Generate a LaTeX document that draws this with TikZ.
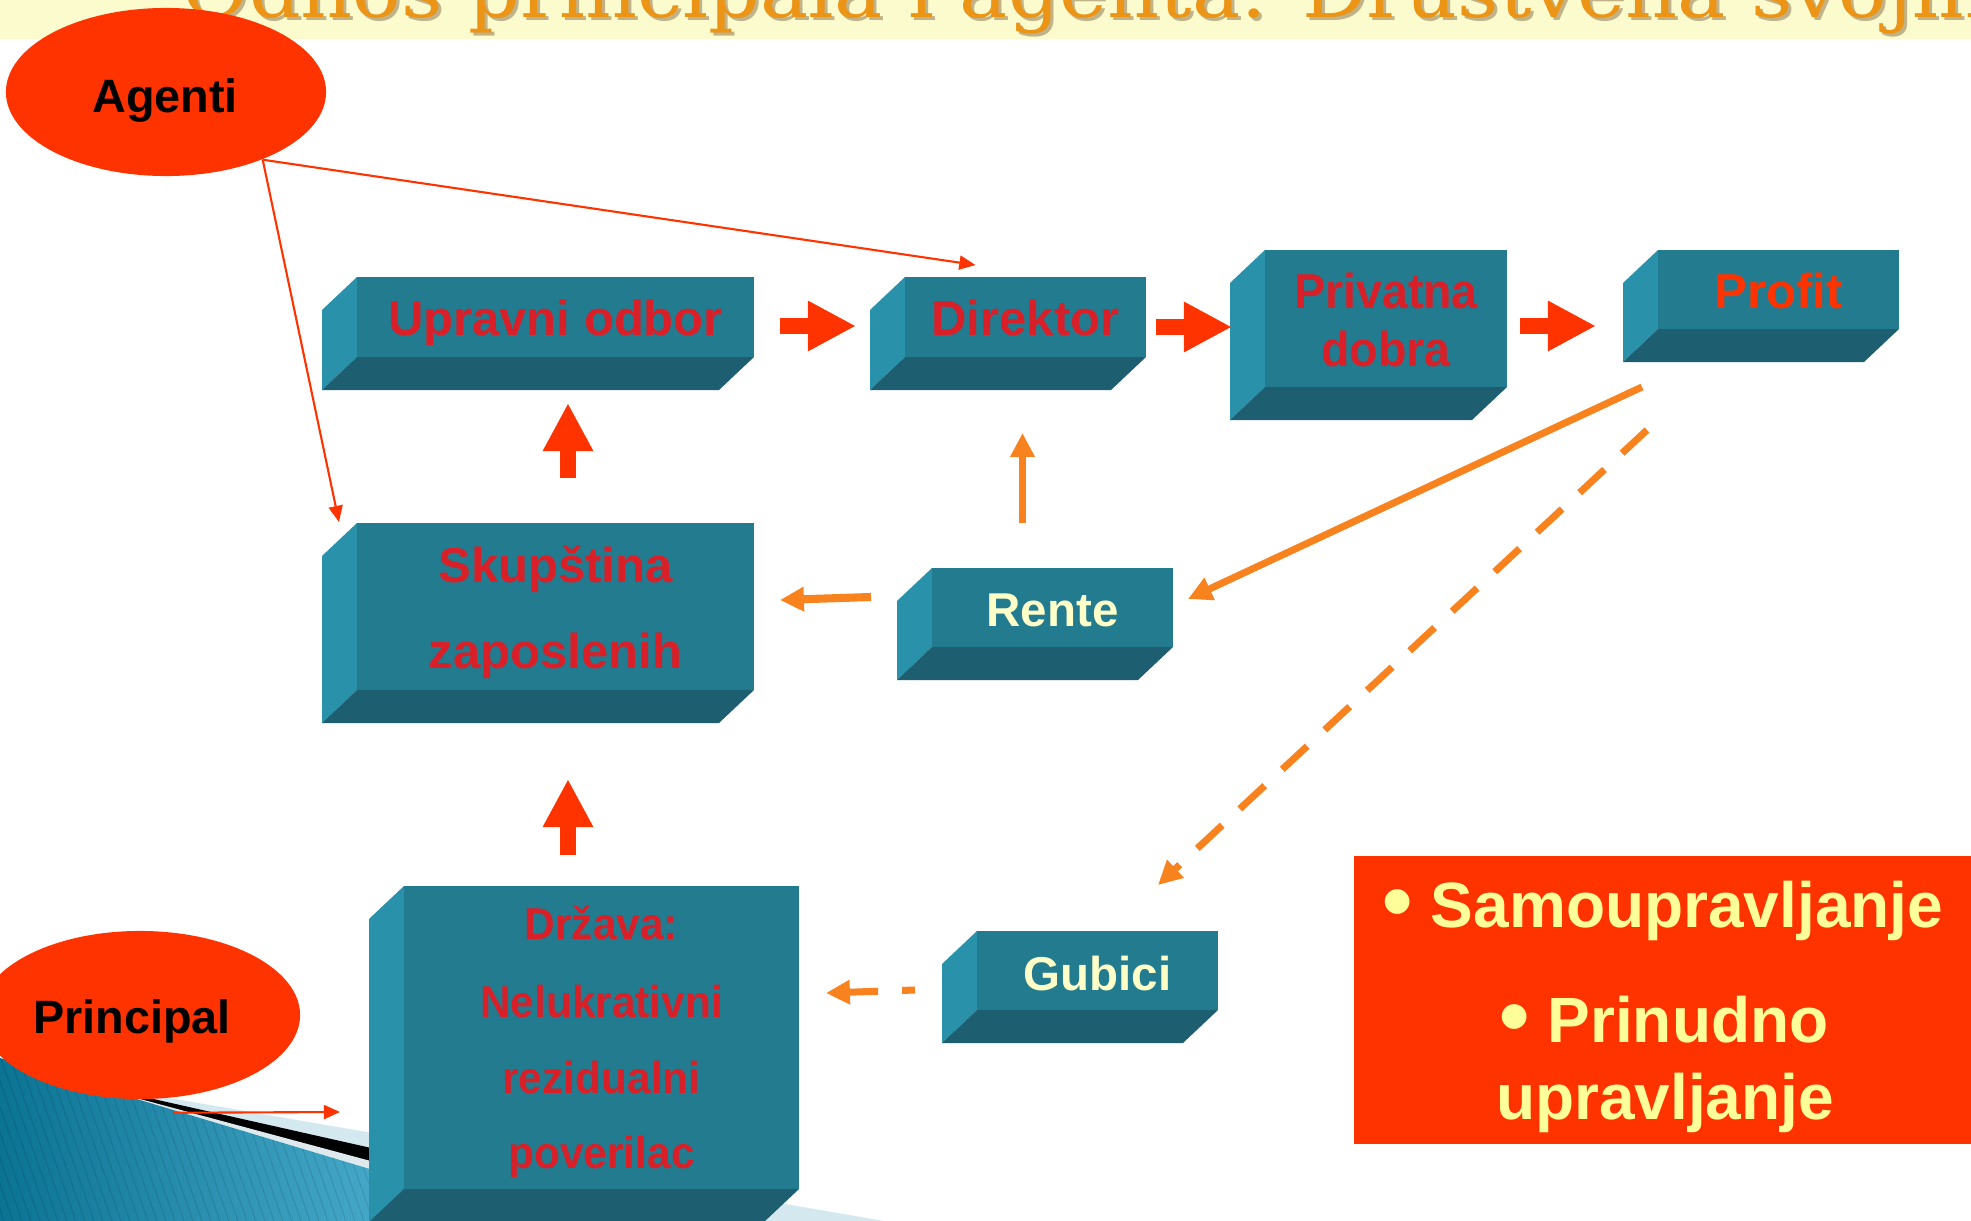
\documentclass[tikz,border=0pt]{standalone}
\usepackage{fontspec}
\setmainfont{Liberation Sans}
\newfontfamily\titlefont{DejaVu Serif}
\usetikzlibrary{arrows.meta,calc,shapes.geometric}
\definecolor{boxfront}{HTML}{227B8F}
\definecolor{boxside}{HTML}{2A91AA}
\definecolor{boxbottom}{HTML}{1D5E70}
\definecolor{txtred}{HTML}{D91F28}
\definecolor{hotred}{HTML}{FF3300}
\definecolor{cream}{HTML}{FFFFC8}
\definecolor{noteyellow}{HTML}{FFFF99}
\definecolor{orng}{HTML}{F8821E}
\definecolor{stripcol}{HTML}{FBFBCE}
\definecolor{titleor}{HTML}{EC9416}
\definecolor{lightband}{HTML}{D4E8EF}
\definecolor{bluedark}{HTML}{0B7394}
\definecolor{bluelight}{HTML}{62C2E2}
\definecolor{stripecol}{HTML}{DDE9EC}
\newcommand\tdbox[5]{%
  \fill[boxside] (#2,#3) -- (#2-35,#3+33) -- (#2-35,#5+33) -- (#2,#5) -- cycle;
  \fill[boxbottom] (#2,#5) -- (#4,#5) -- (#4-35,#5+33) -- (#2-35,#5+33) -- cycle;
  \node[frontface, minimum width={(#4-#2)*0.01cm}, minimum height={(#5-#3)*0.01cm}] (#1) at ({(#2+#4)/2},{(#3+#5)/2}) {};
}
\newcommand\narrowtxt[1]{\scalebox{0.95}[1]{#1}}
\begin{document}
\begin{tikzpicture}[x=0.01cm,y=-0.01cm,
  frontface/.style={rectangle, fill=boxfront, draw=none, inner sep=0pt, outer sep=0pt},
  boxtxt/.style={inner sep=0pt, anchor=base, text=txtred, font=\fontsize{13.94pt}{16pt}\selectfont\bfseries},
  drztxt/.style={inner sep=0pt, anchor=base, text=txtred, font=\fontsize{12.7pt}{15pt}\selectfont\bfseries},
  creamtxt/.style={inner sep=0pt, anchor=base, text=cream, font=\fontsize{13.5pt}{15pt}\selectfont\bfseries},
  blacktxt/.style={inner sep=0pt, anchor=base, text=black, font=\fontsize{13.3pt}{15pt}\selectfont\bfseries},
  notetxt/.style={inner sep=0pt, anchor=base, text=noteyellow, font=\fontsize{18.2pt}{21pt}\selectfont\bfseries},
  ellred/.style={ellipse, fill=hotred, draw=none, inner sep=0pt, minimum width=3.2cm, minimum height=1.68cm},
  blockarrow/.style={draw=hotred, line width=4.55pt, -{Triangle[length=13.66pt,width=13.37pt]}},
  orangearrow/.style={draw=orng, line width=2pt, -{Triangle[length=6.8pt,width=6.6pt]}},
  orangedash/.style={orangearrow, dash pattern=on 9.67pt off 6.83pt},
  thinred/.style={draw=hotred, line width=0.6pt, -{Triangle[length=4.6pt,width=4pt]}}
]
\useasboundingbox (0,0) rectangle (1971,1221);
\fill[white] (0,0) rectangle (1971,1221);
% title strip
\fill[stripcol] (0,0) rectangle (1971,39);
\node[anchor=base west, inner sep=0pt, text=black!45!brown, opacity=0.4] at (185,21)
  {\titlefont\fontsize{21.3pt}{24pt}\selectfont\scalebox{1.08}[1]{Odnos principala i agenta: Društvena svojina}};
\node[anchor=base west, inner sep=0pt, text=titleor] (title) at (182,18)
  {\titlefont\fontsize{21.3pt}{24pt}\selectfont\scalebox{1.08}[1]{Odnos principala i agenta: Društvena svojina}};
% bottom-left decoration
\fill[lightband] (0,1069) -- (140,1093) -- (884,1221) -- (0,1221) -- cycle;
\fill[black] (0,1064) -- (140,1096) -- (696,1221) -- (0,1221) -- cycle;
\fill[stripecol] (0,1061) -- (140,1099) -- (594,1221) -- (0,1221) -- cycle;
\begin{scope}
  \clip (0,1058) -- (543,1221) -- (0,1221) -- cycle;
  \shade[left color=bluedark, right color=bluelight] (0,1050) rectangle (560,1221);
  \foreach \i in {-200,-191,...,560} \draw[black, opacity=0.10, line width=0.3pt] (\i,1050) -- ++(60,171);
\end{scope}
% ellipses
\node[ellred] (ag) at (166,92) {};
\node[ellred] (pr) at (140,1015) {};
\node[blacktxt] (ag-t) at (165,112) {Agenti};
\node[blacktxt] (pr-t) at (132,1033) {Principal};
% boxes
\tdbox{upr}{357}{277}{754}{357}
\tdbox{dir}{905}{277}{1146}{357}
\tdbox{priv}{1265}{250}{1507}{387}
\tdbox{prof}{1658}{250}{1899}{329}
\tdbox{skup}{357}{523}{754}{690}
\tdbox{rente}{932}{568}{1173}{647}
\tdbox{gub}{977}{931}{1218}{1010}
\tdbox{drz}{404}{886}{799}{1189}
% box texts
\node[boxtxt] (upr-t) at (555.5,335) {Upravni odbor};
\node[boxtxt] (dir-t) at (1025.5,335) {Direktor};
\node[boxtxt] (priv-t1) at (1386,308) {\narrowtxt{Privatna}};
\node[boxtxt] (priv-t2) at (1386,366) {\narrowtxt{dobra}};
\node[boxtxt, text=hotred] (prof-t) at (1778.5,308) {Profit};
\node[boxtxt] (skup-t1) at (555.5,582) {Skupština};
\node[boxtxt] (skup-t2) at (555.5,668) {zaposlenih};
\node[creamtxt] (rente-t) at (1052.5,626) {Rente};
\node[creamtxt] (gub-t) at (1097.5,990) {Gubici};
\node[drztxt] (drz-t1) at (601.5,939) {\narrowtxt{Država:}};
\node[drztxt] (drz-t2) at (601.5,1017) {\narrowtxt{Nelukrativni}};
\node[drztxt] (drz-t3) at (601.5,1093) {\narrowtxt{rezidualni}};
\node[drztxt] (drz-t4) at (601.5,1168) {\narrowtxt{poverilac}};
% note box
\node[rectangle, fill=hotred, inner sep=0pt, minimum width=6.17cm, minimum height=2.88cm] (note) at (1662.5,1000) {};
\node[notetxt] (note-t1) at (1663,927) {\raisebox{-0.06em}{\scalebox{1.35}{•}} Samoupravljanje};
\node[notetxt] (note-t2) at (1664,1042) {\raisebox{-0.06em}{\scalebox{1.35}{•}} Prinudno};
\node[notetxt] (note-t3) at (1665,1119) {upravljanje};
% red block arrows
\draw[blockarrow] ($(upr.east)+(26,9)$) -- ($(dir.west)+(-49,9)$);
\draw[blockarrow] ($(dir.east)+(10,10)$) -- ($(priv.west)+(-33,8.5)$);
\draw[blockarrow] ($(priv.east)+(13,7.5)$) -- ($(prof.west)+(-62,36.5)$);
\draw[blockarrow] ($(skup.north)+(12.5,-45)$) -- ($(upr.south)+(12.5,46)$);
\draw[blockarrow] ($(drz.north)+(-33.5,-31)$) -- ($(skup.south)+(12.5,89)$);
% orange arrows
\draw[orangearrow] ($(rente.north)+(-30,-45)$) -- ($(dir.south)+(-3,76)$);
\draw[orangearrow, line width=2.3pt] ($(rente.west)+(-61,-10.5)$) -- ($(skup.east)+(26,-6.5)$);
\draw[orangearrow] ($(prof.south)+(-136.5,58)$) -- ($(rente.east)+(15,-8.5)$);
\draw[orangedash] ($(prof.south)+(-131.5,101)$) -- ($(gub.north)+(60.5,-46)$);
\draw[orangedash, dash phase=6pt] ($(gub.west)+(-62,19.5)$) -- ($(drz.east)+(27,-44.5)$);
% thin red arrows
\draw[thinred] (ag.-35) -- ($(dir.north)+(-50,-12)$);
\draw[thinred] (ag.-35) -- ($(skup.north west)+(-18,-1)$);
\draw[thinred] ($(pr.south)+(34,13)$) -- ($(drz.south west)+(-64,-77)$);
\end{tikzpicture}
\end{document}
